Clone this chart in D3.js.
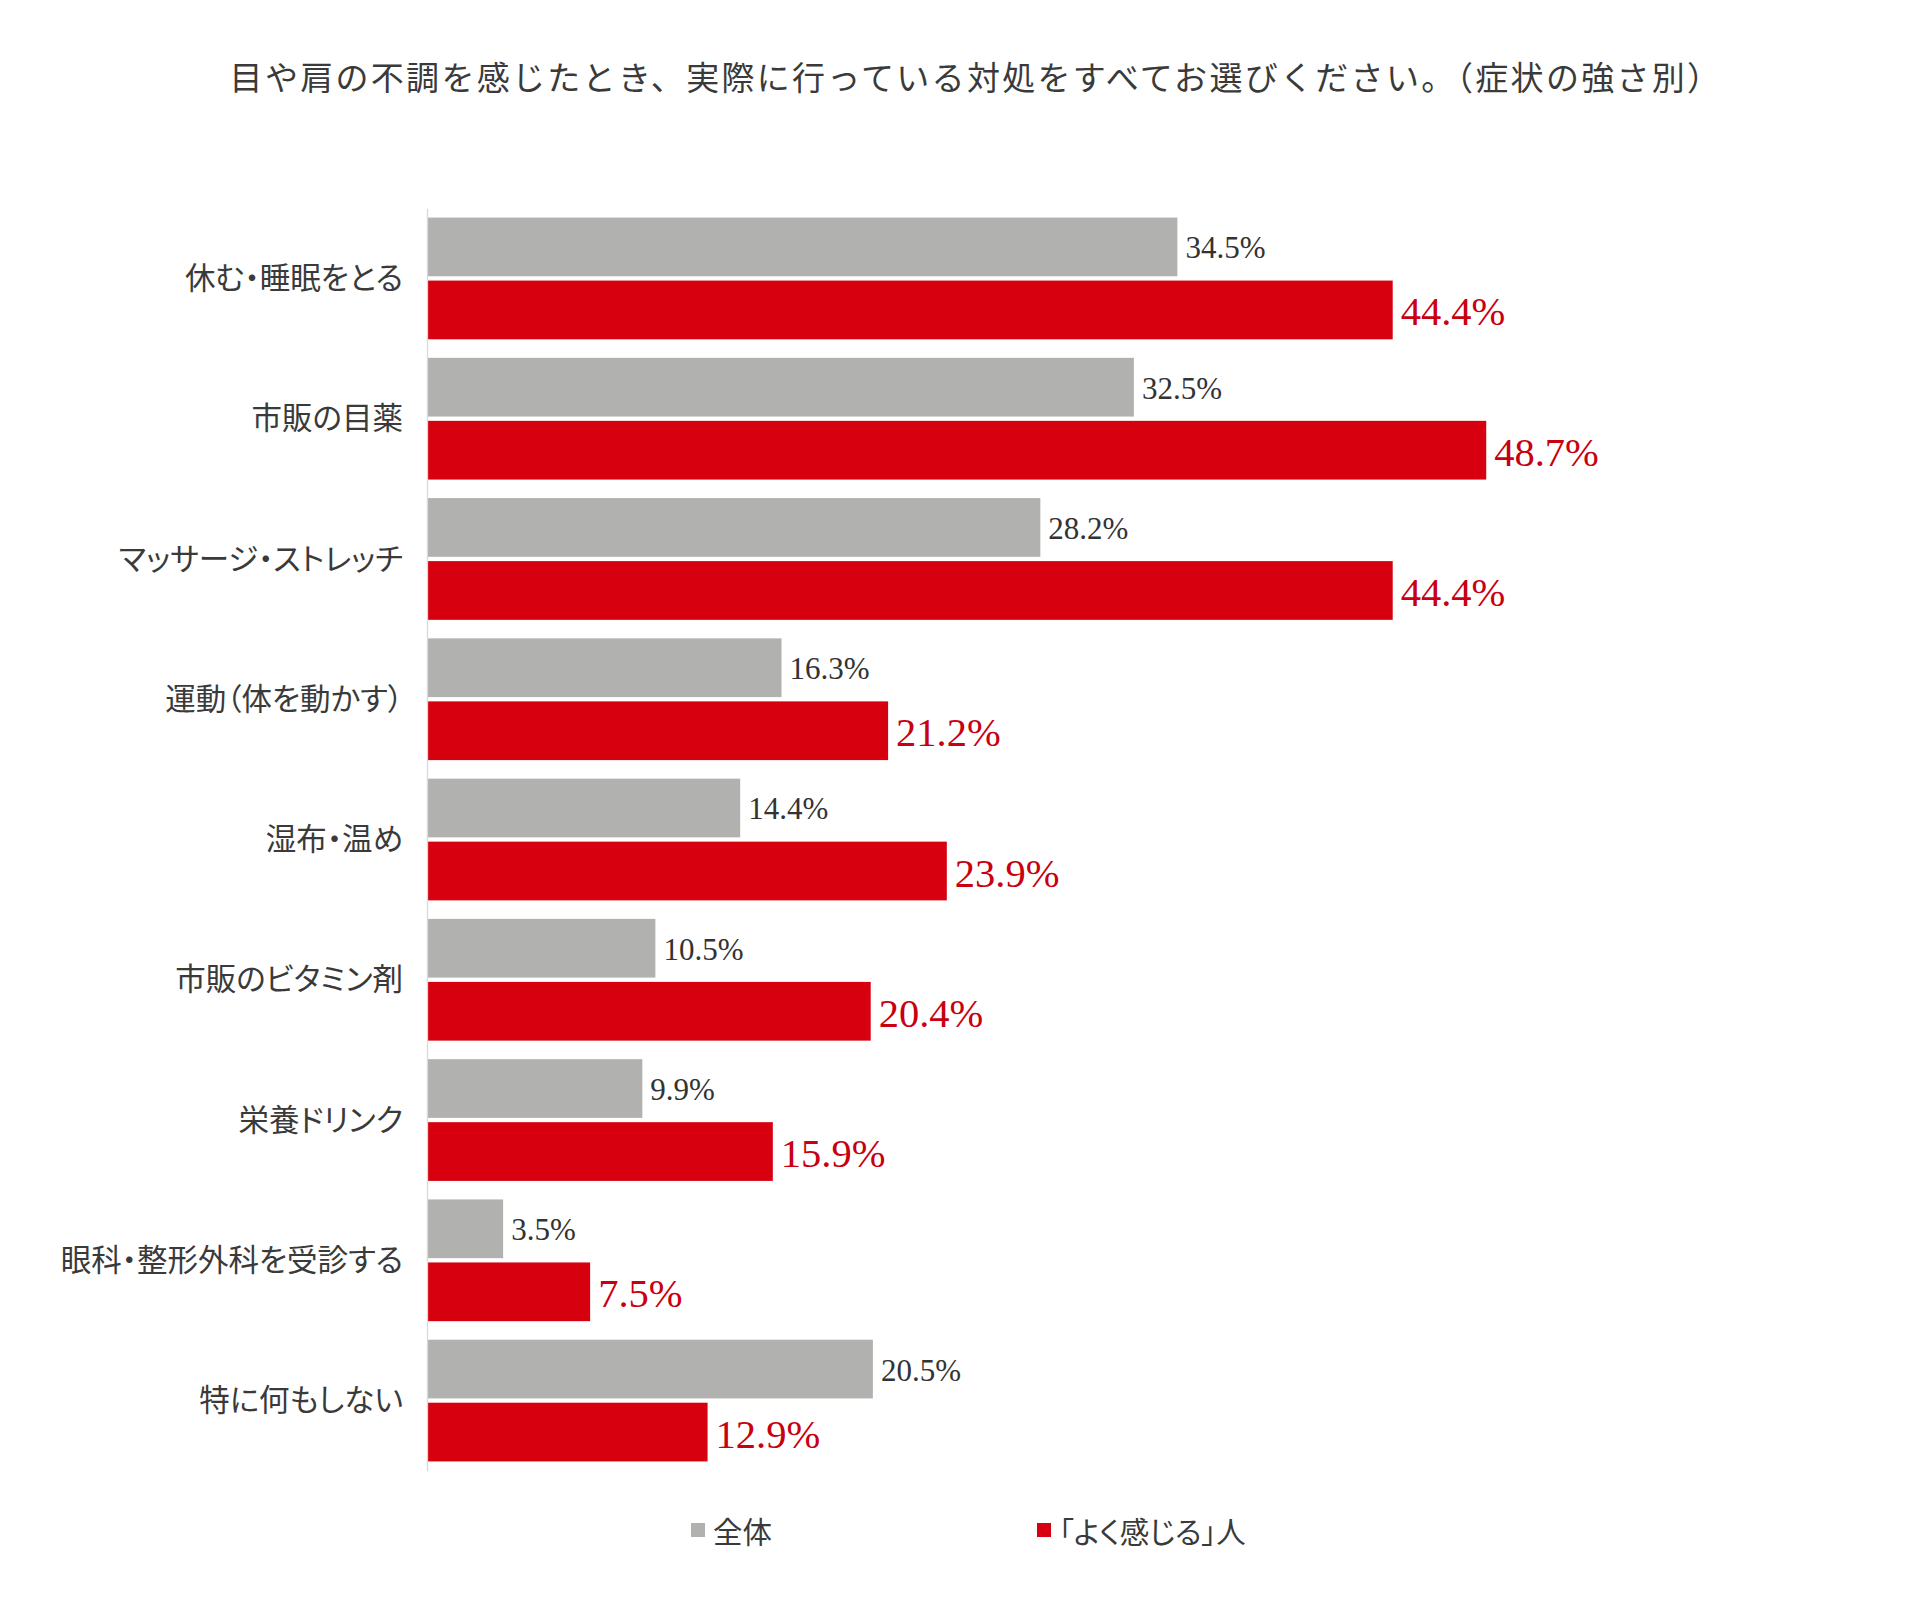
<!DOCTYPE html>
<html>
<head>
<meta charset="utf-8">
<script src="https://cdn.jsdelivr.net/npm/d3@7"></script>
<style>
  html, body { margin: 0; padding: 0; background: #ffffff; }
  svg { display: block; }
  .palt { font-feature-settings: "palt" 1; }
</style>
</head>
<body>
<div id="chart"></div>
<script>
const titleText = "目や肩の不調を感じたとき、実際に行っている対処をすべてお選びください。（症状の強さ別）";
const categories = [
  "休む・睡眠をとる",
  "市販の目薬",
  "マッサージ・ストレッチ",
  "運動（体を動かす）",
  "湿布・温め",
  "市販のビタミン剤",
  "栄養ドリンク",
  "眼科・整形外科を受診する",
  "特に何もしない"
];
const seriesNames = ["全体", "「よく感じる」人"];
const valuesAll = [34.5, 32.5, 28.2, 16.3, 14.4, 10.5, 9.9, 3.5, 20.5];
const valuesStrong = [44.4, 48.7, 44.4, 21.2, 23.9, 20.4, 15.9, 7.5, 12.9];

const W = 1920, H = 1611;
const barColors = ["#B1B2AF", "#D7000F"];
const labelColors = ["#333333", "#C8000F"];
const labelSizes = [31, 40.5];

const svg = d3.select("#chart").append("svg")
  .attr("width", W).attr("height", H);

const cjk = "'Noto Sans CJK JP', 'Noto Sans', sans-serif";
const serif = "'Liberation Serif', 'DejaVu Serif', serif";

// title
svg.append("text")
  .attr("x", 976).attr("y", 76)
  .attr("text-anchor", "middle")
  .attr("dominant-baseline", "central")
  .style("font-family", cjk)
  .style("font-size", "33px")
  .style("letter-spacing", "2.3px")
  .style("fill", "#3a3a3a")
  .text(titleText);

const x = d3.scaleLinear().domain([0, 50]).range([427, 427 + 21.75 * 50]);
const y = d3.scaleBand().domain(categories).range([208.3, 1470.7]).paddingInner(0).paddingOuter(0);
const ySub = d3.scaleBand().domain(seriesNames).range([0, y.bandwidth()])
  .paddingInner(0.068).paddingOuter(0.147);

const rows = categories.map((c, i) => ({
  cat: c,
  vals: [valuesAll[i], valuesStrong[i]]
}));

// bars
const g = svg.append("g");
rows.forEach(r => {
  r.vals.forEach((v, si) => {
    const yy = y(r.cat) + ySub(seriesNames[si]);
    g.append("rect")
      .attr("x", x(0))
      .attr("y", yy)
      .attr("width", x(v) - x(0))
      .attr("height", ySub.bandwidth())
      .attr("fill", barColors[si]);
    g.append("text")
      .attr("x", x(v) + 8)
      .attr("y", yy + ySub.bandwidth() / 2 + (si === 0 ? 1 : 2))
      .attr("dominant-baseline", "central")
      .style("font-family", serif)
      .style("font-size", labelSizes[si] + "px")
      .style("fill", labelColors[si])
      .text(v.toFixed(1) + "%");
  });
});

// axis line (category axis)
const yAxis = d3.axisLeft(y).tickSize(0).tickPadding(24);
const ag = svg.append("g").attr("transform", `translate(${x(0)},0)`).call(yAxis);
ag.select(".domain").attr("stroke", "#D9D9D9").attr("stroke-width", 1.3);
ag.selectAll(".tick text")
  .attr("class", "palt")
  .style("font-family", cjk)
  .style("font-size", "30.5px")
  .style("fill", "#3a3a3a")
  .attr("dy", "0.35em");

// legend
const legendX = [691, 1037];
const lg = svg.append("g");
seriesNames.forEach((s, i) => {
  lg.append("rect")
    .attr("x", legendX[i]).attr("y", 1523)
    .attr("width", 14).attr("height", 14)
    .attr("fill", barColors[i]);
  lg.append("text")
    .attr("class", "palt")
    .attr("x", legendX[i] + 22).attr("y", 1530)
    .attr("dominant-baseline", "central")
    .style("font-family", cjk)
    .style("font-size", "29.5px")
    .style("fill", "#3a3a3a")
    .text(s);
});
</script>
</body>
</html>
